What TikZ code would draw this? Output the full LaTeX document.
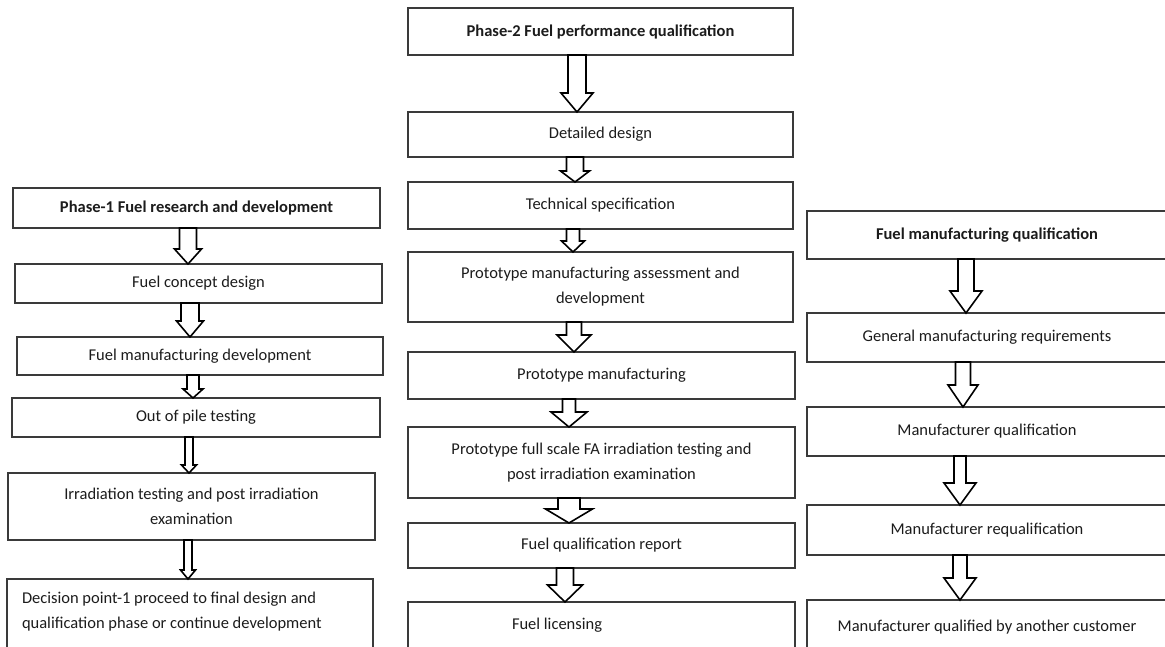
\documentclass[tikz,border=0pt]{standalone}
\usepackage{fontspec}
\setmainfont{Carlito}
\usetikzlibrary{calc}
\definecolor{boxline}{HTML}{3A3A3A}
\definecolor{ink}{HTML}{1C1C1C}
\tikzset{
  box/.style={draw=boxline, line width=1.5pt, fill=white, rectangle,
    inner sep=0pt, outer sep=0pt, text=ink, align=center,
    font=\fontsize{16.5}{25}\selectfont},
  title/.style={box, font=\fontsize{16.5}{25}\selectfont\bfseries},
  label/.style={text=ink, inner sep=0pt, outer sep=0pt, align=left,
    font=\fontsize{16.5}{25}\selectfont},
  fat/.style={draw=black, line width=1.6pt, fill=white, line join=miter}
}
% hollow block arrow from the bottom of #1 to the top of #2
% #3 centre x, #4 shaft half width, #5 head half width, #6 head length
\newcommand{\fatarrow}[6]{%
  \draw[fat] let \p1=(#1.south), \p2=(#2.north) in
    (#3pt-#4pt,\y1) -- (#3pt+#4pt,\y1) -- (#3pt+#4pt,\y2+#6pt)
    -- (#3pt+#5pt,\y2+#6pt) -- (#3pt,\y2) -- (#3pt-#5pt,\y2+#6pt)
    -- (#3pt-#4pt,\y2+#6pt) -- cycle;}
\begin{document}
\begin{tikzpicture}[x=1pt,y=-1pt]
\useasboundingbox (0,0) rectangle (1165,646);
\clip (0,0) rectangle (1165,646);

% Phase 1
\node[title, minimum width=367pt, minimum height=40pt] (l1) at (196.5,208) {Phase-1 Fuel research and development};
\node[box, minimum width=367pt, minimum height=39pt] (l2) at (198.5,283.5) {Fuel concept design};
\node[box, minimum width=366pt, minimum height=38pt] (l3) at (200,356) {Fuel manufacturing development};
\node[box, minimum width=368pt, minimum height=39pt] (l4) at (196,417.5) {Out of pile testing};
\node[box, minimum width=367pt, minimum height=67pt] (l5) at (191.5,506.5) {Irradiation testing and post irradiation\\examination};
\node[box, minimum width=366pt, minimum height=90pt, anchor=north west] (l6) at (7,579) {};
\node[label, anchor=west] (l6t) at (22,612) {Decision point-1 proceed to final design and\\qualification phase or continue development};

% Phase 2
\node[title, minimum width=385pt, minimum height=47pt] (m1) at (600.5,31.5) {Phase-2 Fuel performance qualification};
\node[box, minimum width=385pt, minimum height=45pt] (m2) at (600.5,134.5) {Detailed design};
\node[box, minimum width=385pt, minimum height=47pt] (m3) at (600.5,205.5) {Technical specification};
\node[box, minimum width=385pt, minimum height=70pt] (m4) at (600.5,287) {Prototype manufacturing assessment and\\development};
\node[box, minimum width=387pt, minimum height=47pt] (m5) at (601.5,375.5) {Prototype manufacturing};
\node[box, minimum width=387pt, minimum height=71pt] (m6) at (601.5,462.5) {Prototype full scale FA irradiation testing and\\post irradiation examination};
\node[box, minimum width=387pt, minimum height=45pt] (m7) at (601.5,545.5) {Fuel qualification report};
\node[box, minimum width=387pt, minimum height=90pt, anchor=north west] (m8) at (408,602) {};
\node[label, anchor=west] (m8t) at (512,625) {Fuel licensing};

% Manufacturing
\node[title, minimum width=360pt, minimum height=48pt] (r1) at (987,235) {Fuel manufacturing qualification};
\node[box, minimum width=360pt, minimum height=49pt] (r2) at (987,337.5) {General manufacturing requirements};
\node[box, minimum width=360pt, minimum height=49pt] (r3) at (987,431.5) {Manufacturer qualification};
\node[box, minimum width=360pt, minimum height=50pt] (r4) at (987,530) {Manufacturer requalification};
\node[box, minimum width=360pt, minimum height=90pt, anchor=north west] (r5) at (807,600) {};
\node[label, anchor=center] (r5t) at (987,627) {Manufacturer qualified by another customer};

% arrows, phase 1
\fatarrow{l1}{l2}{188}{8.5}{13.5}{15}
\fatarrow{l2}{l3}{190}{9}{13.5}{16}
\fatarrow{l3}{l4}{193}{6}{10}{9}
\fatarrow{l4}{l5}{189}{4}{7.5}{8}
\fatarrow{l5}{l6}{188}{4}{7.5}{9}

% arrows, phase 2
\fatarrow{m1}{m2}{577}{9}{16}{19}
\fatarrow{m2}{m3}{575}{8.5}{14.5}{11}
\fatarrow{m3}{m4}{573}{6.5}{11.5}{11}
\fatarrow{m4}{m5}{574}{7.5}{17}{17}
\fatarrow{m5}{m6}{569}{6.5}{18}{15}
\fatarrow{m6}{m7}{569}{11}{23.5}{14}
\fatarrow{m7}{m8}{565}{8.5}{17.5}{17}

% arrows, manufacturing
\fatarrow{r1}{r2}{966}{8}{16}{22}
\fatarrow{r2}{r3}{963}{7.5}{15}{22}
\fatarrow{r3}{r4}{960}{6}{16}{22}
\fatarrow{r4}{r5}{960}{7}{16}{22}
\end{tikzpicture}
\end{document}
